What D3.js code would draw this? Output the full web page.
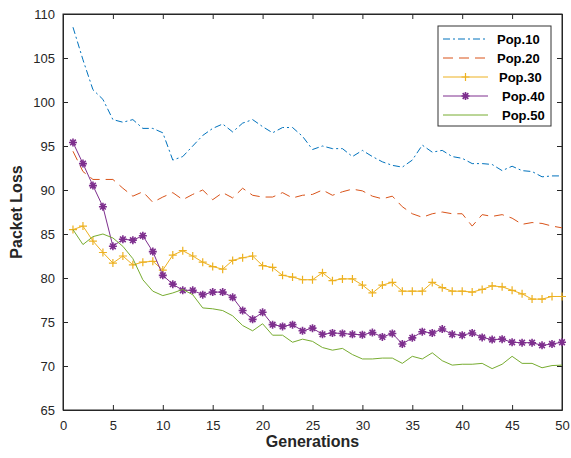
<!DOCTYPE html>
<html>
<head>
<meta charset="utf-8">
<script src="https://cdn.jsdelivr.net/npm/d3@7"></script>
<style>
  body { margin: 0; background: #fff; }
  text { font-family: "Liberation Sans", Arial, sans-serif; }
</style>
</head>
<body>
<div id="chart"></div>
<script>
// Data (generation 1..50)
var generations = d3.range(1, 51);

var pop10 = [108.5, 104.8, 101.4, 100.3, 98.0, 97.7, 98.0, 97.0, 97.0, 96.5,
  93.4, 93.8, 95.0, 96.2, 97.0, 97.5, 96.6, 97.6, 98.0, 97.2,
  96.5, 97.1, 97.1, 96.1, 94.6, 95.0, 94.7, 94.7, 93.8, 94.5,
  93.8, 93.2, 92.8, 92.6, 93.4, 95.1, 94.3, 94.5, 93.8, 93.6,
  93.0, 93.0, 92.9, 92.2, 92.7, 92.2, 92.1, 91.5, 91.6, 91.6];

var pop20 = [94.4, 92.1, 91.2, 91.2, 91.2, 90.2, 89.3, 89.8, 88.6, 89.2,
  89.7, 88.9, 89.5, 90.0, 88.9, 89.7, 89.1, 90.2, 89.4, 89.2,
  89.2, 89.7, 89.1, 89.4, 89.5, 90.0, 89.4, 89.8, 90.1, 89.9,
  89.3, 89.0, 89.3, 88.1, 87.3, 86.9, 87.3, 87.5, 87.3, 87.3,
  85.9, 87.2, 87.0, 87.2, 86.8, 86.1, 86.3, 86.2, 85.9, 85.7];

var pop30 = [85.5, 85.9, 84.2, 82.9, 81.7, 82.5, 81.5, 81.8, 81.9, 80.9,
  82.6, 83.1, 82.5, 81.8, 81.3, 81.0, 82.0, 82.3, 82.5, 81.4,
  81.2, 80.3, 80.1, 79.8, 79.8, 80.6, 79.7, 79.9, 79.9, 79.2,
  78.3, 79.2, 79.5, 78.5, 78.5, 78.5, 79.5, 78.9, 78.5, 78.5,
  78.4, 78.7, 79.1, 79.0, 78.6, 78.2, 77.6, 77.6, 77.9, 77.9];

var pop40 = [95.4, 93.0, 90.5, 88.1, 83.6, 84.4, 84.3, 84.8, 83.0, 80.3,
  79.3, 78.6, 78.6, 78.1, 78.4, 78.4, 77.8, 76.3, 75.3, 76.1,
  74.7, 74.5, 74.7, 74.0, 74.3, 73.6, 73.75, 73.7, 73.6, 73.55,
  73.8, 73.3, 73.7, 72.5, 73.2, 73.9, 73.75, 74.2, 73.6, 73.5,
  73.75, 73.25, 73.0, 73.05, 72.7, 72.65, 72.65, 72.35, 72.5, 72.7];

var pop50 = [85.5, 83.8, 84.7, 85.0, 84.55, 83.6, 82.2, 79.8, 78.5, 78.0,
  78.3, 78.7, 78.1, 76.6, 76.5, 76.3, 75.7, 74.6, 74.0, 74.8,
  73.5, 73.5, 72.7, 73.05, 72.8, 72.1, 71.8, 72.0, 71.3, 70.8,
  70.8, 70.9, 70.9, 70.3, 71.1, 70.8, 71.5, 70.6, 70.1, 70.2,
  70.2, 70.3, 69.7, 70.2, 71.1, 70.3, 70.3, 69.8, 70.05, 70.1];

var seriesNames = ["Pop.10", "Pop.20", "Pop.30", "Pop.40", "Pop.50"];
var xTicks = d3.range(0, 51, 5);
var yTicks = d3.range(65, 111, 5);

// Styles per series
var styles = [
  { color: "#0072BD", dash: "7,3,2,3", marker: null },
  { color: "#D95319", dash: "10,6", marker: null },
  { color: "#EDB120", dash: null, marker: "plus" },
  { color: "#7E2F8E", dash: null, marker: "star" },
  { color: "#77AC30", dash: null, marker: null }
];

var width = 571, height = 458;
// plot box edges (avoid the name "top", it clashes with window.top)
var pLeft = 63, pRight = 562, pTop = 14, pBottom = 410;

var svg = d3.select("#chart").append("svg")
  .attr("width", width)
  .attr("height", height);

var x = d3.scaleLinear().domain([0, 50]).range([pLeft, pRight]);
var y = d3.scaleLinear().domain([65, 110]).range([pBottom, pTop]);

var axisColor = "#262626";

// box
svg.append("rect")
  .attr("x", pLeft).attr("y", pTop)
  .attr("width", pRight - pLeft).attr("height", pBottom - pTop)
  .attr("fill", "none").attr("stroke", axisColor).attr("stroke-width", 1);

// axes, ticks pointing inward
var xAxis = svg.append("g")
  .attr("transform", "translate(0," + pBottom + ")")
  .call(d3.axisBottom(x).tickValues(xTicks).tickSizeInner(-5).tickSizeOuter(0).tickPadding(11));
var xAxisTop = svg.append("g")
  .attr("transform", "translate(0," + pTop + ")")
  .call(d3.axisTop(x).tickValues(xTicks).tickSizeInner(-5).tickSizeOuter(0).tickFormat(""));
var yAxis = svg.append("g")
  .attr("transform", "translate(" + pLeft + ",0)")
  .call(d3.axisLeft(y).tickValues(yTicks).tickSizeInner(-5).tickSizeOuter(0).tickPadding(8));
var yAxisRight = svg.append("g")
  .attr("transform", "translate(" + pRight + ",0)")
  .call(d3.axisRight(y).tickValues(yTicks).tickSizeInner(-5).tickSizeOuter(0).tickFormat(""));

[xAxis, xAxisTop, yAxis, yAxisRight].forEach(function(g) {
  g.select(".domain").attr("stroke", axisColor);
  g.selectAll(".tick line").attr("stroke", axisColor);
  g.selectAll(".tick text")
    .attr("fill", axisColor)
    .style("font-size", "13px")
    .style("font-family", "'Liberation Sans', Arial, sans-serif");
});

// axis titles
svg.append("text")
  .attr("x", (pLeft + pRight) / 2)
  .attr("y", 447)
  .attr("text-anchor", "middle")
  .style("font-size", "16px")
  .style("font-weight", "bold")
  .attr("fill", axisColor)
  .text("Generations");

svg.append("text")
  .attr("transform", "translate(22," + (pTop + pBottom) / 2 + ")rotate(-90)")
  .attr("text-anchor", "middle")
  .style("font-size", "16px")
  .style("font-weight", "bold")
  .attr("fill", axisColor)
  .text("Packet Loss");

// lines
var allSeries = [pop10, pop20, pop30, pop40, pop50];
var line = d3.line()
  .x(function(d, i) { return x(generations[i]); })
  .y(function(d) { return y(d); });

function markerPath(type, s) {
  if (type === "plus") {
    return "M" + (-s) + ",0H" + s + "M0," + (-s) + "V" + s;
  }
  var d = s * 0.7071;
  return "M" + (-s) + ",0H" + s + "M0," + (-s) + "V" + s +
    "M" + (-d) + "," + (-d) + "L" + d + "," + d +
    "M" + (-d) + "," + d + "L" + d + "," + (-d);
}

allSeries.forEach(function(data, k) {
  var st = styles[k];
  svg.append("path")
    .datum(data)
    .attr("fill", "none")
    .attr("stroke", st.color)
    .attr("stroke-width", 1)
    .attr("stroke-dasharray", st.dash)
    .attr("d", line);
  if (st.marker) {
    svg.selectAll(".m" + k)
      .data(data)
      .enter().append("path")
      .attr("class", "m" + k)
      .attr("transform", function(d, i) {
        return "translate(" + x(generations[i]) + "," + y(d) + ")";
      })
      .attr("d", markerPath(st.marker, 4))
      .attr("fill", "none")
      .attr("stroke", st.color)
      .attr("stroke-width", st.marker === "star" ? 1.6 : 1.2);
  }
});

// legend
var legend = svg.append("g");
legend.append("rect")
  .attr("x", 438).attr("y", 26)
  .attr("width", 113).attr("height", 100)
  .attr("fill", "#fff")
  .attr("stroke", "#333")
  .attr("stroke-width", 1);

var textX = [497, 497, 499, 502, 502];
seriesNames.forEach(function(name, k) {
  var st = styles[k];
  var ry = 39 + k * 19;
  legend.append("line")
    .attr("x1", 443).attr("x2", 488)
    .attr("y1", ry).attr("y2", ry)
    .attr("stroke", st.color)
    .attr("stroke-width", 1)
    .attr("stroke-dasharray", st.dash);
  if (st.marker) {
    legend.append("path")
      .attr("transform", "translate(465.5," + ry + ")")
      .attr("d", markerPath(st.marker, 4))
      .attr("fill", "none")
      .attr("stroke", st.color)
      .attr("stroke-width", st.marker === "star" ? 1.6 : 1.2);
  }
  legend.append("text")
    .attr("x", textX[k])
    .attr("y", ry + 4.5)
    .style("font-size", "13px")
    .style("font-weight", "bold")
    .attr("fill", "#000")
    .text(name);
});
</script>
</body>
</html>
